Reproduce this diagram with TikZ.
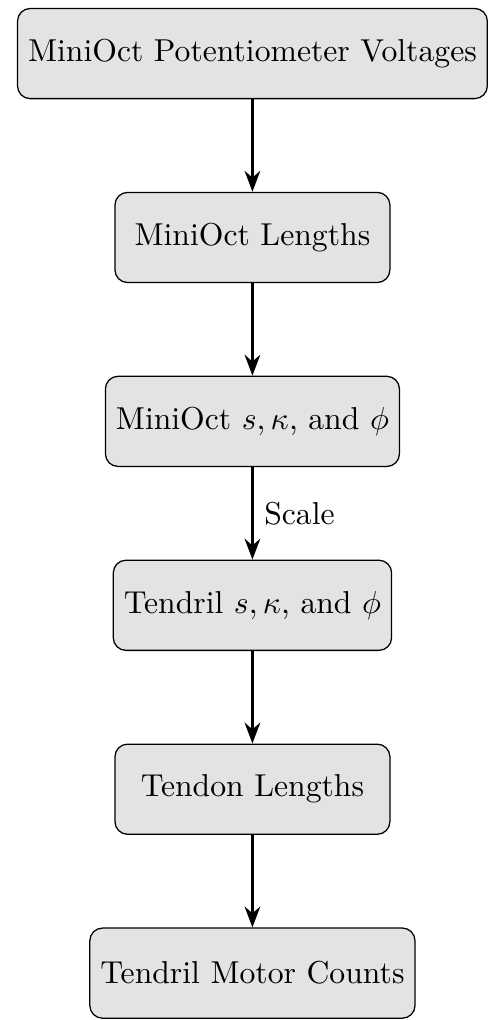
\documentclass[tikz,border=0pt]{standalone}
\usetikzlibrary{arrows.meta}
\begin{document}
\begin{tikzpicture}[
            boxnode/.style={
                draw, rounded corners, fill=gray!22,
                minimum width=3.05cm, minimum height=1cm
            }
        ]
        \useasboundingbox (-2.80, 0.594) rectangle (2.68, -10.72);
        \node[boxnode] (A) at (0, 0) {MiniOct Potentiometer Voltages};
        \node[boxnode] (B) at (0, -2.04) {MiniOct Lengths};
        \node[boxnode] (C) at (0, -4.08) {MiniOct $s,\kappa$, and $\phi$};
        \node[boxnode] (D) at (0, -6.12) {Tendril $s,\kappa$, and $\phi$};
        \node[boxnode] (E) at (0, -8.16) {Tendon Lengths};
        \node[boxnode] (F) at (0, -10.20) {Tendril Motor Counts};
        
        % arrows
        \draw[-Stealth, thick] (A) -- (B);
        \draw[-Stealth, thick] (B) -- (C);
        \draw[-Stealth, thick] (C) -- (D) node[midway, right] {Scale};
        \draw[-Stealth, thick] (D) -- (E);
        \draw[-Stealth, thick] (E) -- (F);
        \end{tikzpicture}
\end{document}
